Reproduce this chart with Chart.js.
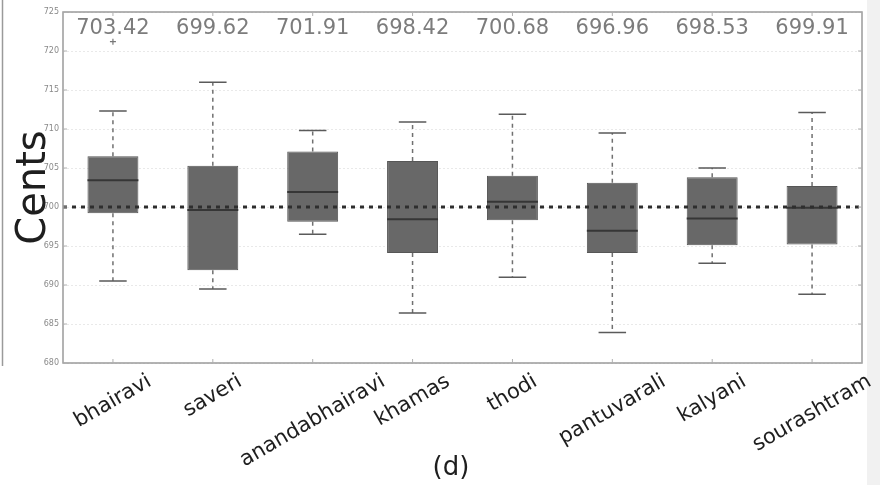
<!DOCTYPE html>
<html lang="en">
<head>
<meta charset="UTF-8">
<title>Cents per raga</title>
<script src="https://cdn.jsdelivr.net/npm/chart.js@4.4.1/dist/chart.umd.min.js"></script>
<style>
  html, body { margin: 0; padding: 0; background: #fff; }
  #wrap { width: 880px; height: 485px; position: relative; }
</style>
</head>
<body>
<div id="wrap"><canvas id="boxChart"></canvas></div>
<script>
// box plot stats per raga (cents)
var ragas = ['bhairavi', 'saveri', 'anandabhairavi', 'khamas', 'thodi', 'pantuvarali', 'kalyani', 'sourashtram'];
var lowWhisker = [690.5, 689.5, 696.5, 686.4, 691.0, 683.9, 692.8, 688.8];
var q1 = [699.2, 691.9, 698.1, 694.1, 698.3, 694.1, 695.1, 695.2];
var medians = [703.42, 699.62, 701.91, 698.42, 700.68, 696.96, 698.53, 699.91];
var q3 = [706.5, 705.3, 707.1, 705.9, 704.0, 703.1, 703.8, 702.7];
var highWhisker = [712.3, 716.0, 709.8, 710.9, 711.9, 709.5, 705.0, 712.1];
var outliers = [[721.2], [], [], [], [], [], [], []];
var refCents = 700;
var yTicks = [680, 685, 690, 695, 700, 705, 710, 715, 720, 725];

var FONT = '"DejaVu Sans", sans-serif';

var boxExtras = {
    id: 'boxExtras',
    beforeDraw: function (chart) {
        var ctx = chart.ctx;
        ctx.save();
        ctx.fillStyle = '#ffffff';
        ctx.fillRect(0, 0, chart.width, chart.height);
        // page margin on the right, neighbour panel edge on the left
        ctx.fillStyle = '#f1f1f1';
        ctx.fillRect(867, 0, chart.width - 867, chart.height);
        ctx.strokeStyle = '#9a9a9a';
        ctx.lineWidth = 1.5;
        ctx.beginPath();
        ctx.moveTo(2.5, 0);
        ctx.lineTo(2.5, 366);
        ctx.stroke();
        ctx.restore();
    },
    beforeDatasetsDraw: function (chart) {
        var ctx = chart.ctx, x = chart.scales.x, y = chart.scales.y;
        var meta = chart.getDatasetMeta(0);
        ctx.save();
        ragas.forEach(function (r, i) {
            var cx = x.getPixelForValue(i);
            var capW = meta.data[i].width * 0.27;
            // dashed whiskers
            ctx.strokeStyle = '#707070';
            ctx.lineWidth = 1.5;
            ctx.setLineDash([4, 4]);
            ctx.beginPath();
            ctx.moveTo(cx, y.getPixelForValue(q3[i]));
            ctx.lineTo(cx, y.getPixelForValue(highWhisker[i]));
            ctx.moveTo(cx, y.getPixelForValue(q1[i]));
            ctx.lineTo(cx, y.getPixelForValue(lowWhisker[i]));
            ctx.stroke();
            // caps
            ctx.setLineDash([]);
            ctx.strokeStyle = '#5a5a5a';
            ctx.beginPath();
            [lowWhisker[i], highWhisker[i]].forEach(function (v) {
                var py = y.getPixelForValue(v);
                ctx.moveTo(cx - capW, py);
                ctx.lineTo(cx + capW, py);
            });
            ctx.stroke();
        });
        ctx.restore();
    },
    afterDatasetsDraw: function (chart) {
        var ctx = chart.ctx, x = chart.scales.x, y = chart.scales.y;
        var area = chart.chartArea;
        var meta = chart.getDatasetMeta(0);
        ctx.save();

        // medians and fliers
        ragas.forEach(function (r, i) {
            var cx = x.getPixelForValue(i);
            var half = meta.data[i].width / 2;
            var py = y.getPixelForValue(medians[i]);
            ctx.strokeStyle = '#363636';
            ctx.lineWidth = 2;
            ctx.beginPath();
            ctx.moveTo(cx - half, py);
            ctx.lineTo(cx + half, py);
            ctx.stroke();
            ctx.strokeStyle = '#777';
            ctx.lineWidth = 1.2;
            outliers[i].forEach(function (v) {
                var oy = y.getPixelForValue(v);
                ctx.beginPath();
                ctx.moveTo(cx - 3, oy); ctx.lineTo(cx + 3, oy);
                ctx.moveTo(cx, oy - 3); ctx.lineTo(cx, oy + 3);
                ctx.stroke();
            });
        });

        // reference line at 700 cents
        var ry = y.getPixelForValue(refCents);
        ctx.strokeStyle = '#2e2e2e';
        ctx.lineWidth = 3;
        ctx.setLineDash([4, 5]);
        ctx.beginPath();
        ctx.moveTo(area.left, ry);
        ctx.lineTo(area.right, ry);
        ctx.stroke();
        ctx.setLineDash([]);

        // frame and inward ticks
        ctx.strokeStyle = '#9a9a9a';
        ctx.lineWidth = 1.5;
        ctx.strokeRect(area.left, area.top, area.right - area.left, area.bottom - area.top);
        ctx.lineWidth = 1;
        ctx.strokeStyle = '#b0b0b0';
        ctx.beginPath();
        yTicks.forEach(function (v) {
            var ty = y.getPixelForValue(v);
            ctx.moveTo(area.left, ty); ctx.lineTo(area.left + 4, ty);
            ctx.moveTo(area.right, ty); ctx.lineTo(area.right - 4, ty);
        });
        ragas.forEach(function (r, i) {
            var tx = x.getPixelForValue(i);
            ctx.moveTo(tx, area.bottom); ctx.lineTo(tx, area.bottom - 4);
            ctx.moveTo(tx, area.top); ctx.lineTo(tx, area.top + 4);
        });
        ctx.stroke();

        // median values along the top
        ctx.fillStyle = '#7c7c7c';
        ctx.font = '21px ' + FONT;
        ctx.textAlign = 'center';
        ctx.textBaseline = 'alphabetic';
        medians.forEach(function (m, i) {
            ctx.fillText(m.toFixed(2), x.getPixelForValue(i), area.top + 22);
        });

        // rotated raga names
        ctx.fillStyle = '#1e1e1e';
        ctx.font = '21px ' + FONT;
        ctx.textBaseline = 'middle';
        var ang = 30 * Math.PI / 180;
        ragas.forEach(function (r, i) {
            var w = ctx.measureText(r).width;
            var h = w * Math.sin(ang) + 21 * Math.cos(ang);
            ctx.save();
            ctx.translate(x.getPixelForValue(i), area.bottom + 8 + h / 2);
            ctx.rotate(-ang);
            ctx.fillText(r, 0, 0);
            ctx.restore();
        });

        // axis title and panel tag
        ctx.save();
        ctx.font = '40px ' + FONT;
        ctx.textBaseline = 'alphabetic';
        ctx.translate(45, (area.top + area.bottom) / 2);
        ctx.rotate(-Math.PI / 2);
        ctx.fillText('Cents', 0, 0);
        ctx.restore();
        ctx.font = '26px ' + FONT;
        ctx.fillText('(d)', 451, 468);

        ctx.restore();
    }
};

new Chart(document.getElementById('boxChart'), {
    type: 'bar',
    data: {
        labels: ragas,
        datasets: [{
            data: q1.map(function (v, i) { return [v, q3[i]]; }),
            backgroundColor: '#686868',
            borderColor: '#565656',
            borderWidth: 1,
            borderSkipped: false,
            categoryPercentage: 1,
            barPercentage: 0.51
        }]
    },
    options: {
        responsive: true,
        maintainAspectRatio: false,
        animation: false,
        layout: { padding: { top: 12, right: 18, left: 0, bottom: 0 } },
        plugins: { legend: { display: false }, tooltip: { enabled: false } },
        scales: {
            x: {
                offset: true,
                grid: { display: false },
                border: { display: false },
                ticks: { display: false },
                afterFit: function (s) { s.height = 122; }
            },
            y: {
                min: 680,
                max: 725,
                afterBuildTicks: function (s) { s.ticks = yTicks.map(function (v) { return { value: v }; }); },
                ticks: { font: { size: 8, family: FONT }, color: '#8a8a8a', padding: 4 },
                grid: { color: '#e9e9e9', drawTicks: false },
                border: { display: false, dash: [2, 2] },
                afterFit: function (s) { s.width = 63; }
            }
        }
    },
    plugins: [boxExtras]
});
</script>
</body>
</html>
